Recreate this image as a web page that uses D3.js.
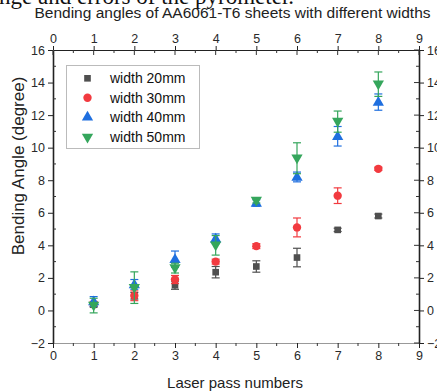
<!DOCTYPE html>
<html><head><meta charset="utf-8">
<script src="https://cdn.jsdelivr.net/npm/d3@7"></script>
<style>
html,body{margin:0;padding:0;background:#fff;overflow:hidden}
svg{display:block}
text{font-family:"Liberation Sans",Arial,sans-serif;fill:#222}
</style></head>
<body>
<script>
const title = "Bending angles of AA6061-T6 sheets with different widths";
const headerText = "nge and errors of the pyrometer.";
const xLabel = "Laser pass numbers";
const yLabel = "Bending Angle (degree)";
const passes = [1, 2, 3, 4, 5, 6, 7, 8];
const seriesNames = ["width 20mm", "width 30mm", "width 40mm", "width 50mm"];
const w20 = [0.35, 0.9, 1.55, 2.35, 2.7, 3.25, 4.95, 5.8];
const w20err = [0.15, 0.2, 0.25, 0.35, 0.35, 0.57, 0.1, 0.12];
const w30 = [0.4, 0.9, 1.9, 3.0, 3.95, 5.1, 7.05, 8.7];
const w30err = [0.15, 0.3, 0.25, 0.15, 0.15, 0.58, 0.48, 0.1];
const w40 = [0.55, 1.6, 3.15, 4.4, 6.6, 8.2, 10.7, 12.8];
const w40err = [0.3, 0.3, 0.5, 0.3, 0.2, 0.3, 0.6, 0.5];
const w50 = [0.3, 1.4, 2.6, 4.0, 6.75, 9.35, 11.6, 13.9];
const w50err = [0.45, 0.97, 0.3, 0.6, 0.15, 0.95, 0.65, 0.75];
const xTicks = [0,1,2,3,4,5,6,7,8,9];
const yTicks = [-2,0,2,4,6,8,10,12,14,16];

const colors = ["#4f4f4f", "#f23a3f", "#1f6fdf", "#35a65c"];
const shapes = [d3.symbolSquare, d3.symbolCircle, d3.symbolTriangle, "down"];
const series = [
  {name: seriesNames[0], vals: w20, err: w20err},
  {name: seriesNames[1], vals: w30, err: w30err},
  {name: seriesNames[2], vals: w40, err: w40err},
  {name: seriesNames[3], vals: w50, err: w50err}
];

const W = 437, H = 392;
const L = 53, R = 419, T = 50, B = 343;
const svg = d3.select("body").append("svg").attr("width", W).attr("height", H);

const x = d3.scaleLinear().domain([0, 9]).range([L, R]);
const y = d3.scaleLinear().domain([-2, 16]).range([B, T]);

// header text from document (cropped at top)
svg.append("text").attr("x", -1).attr("y", 4).style("font-family", "'Liberation Serif','Times New Roman',serif")
  .style("font-size", "23px").style("fill", "#111").text(headerText);

svg.append("text").attr("x", 232.5).attr("y", 18).attr("text-anchor", "middle")
  .style("font-size", "15.5px").text(title);

const minorX = d3.range(0.5, 9, 1);
const minorY = d3.range(-1, 16, 2);

const gB = svg.append("g").attr("transform", `translate(0,${B})`)
  .call(d3.axisBottom(x).tickValues(xTicks).tickSizeInner(5).tickSizeOuter(0).tickPadding(3));
const gL = svg.append("g").attr("transform", `translate(${L},0)`)
  .call(d3.axisLeft(y).tickValues(yTicks).tickSizeInner(5).tickSizeOuter(0).tickPadding(3));
const gT = svg.append("g").attr("transform", `translate(0,${T})`)
  .call(d3.axisTop(x).tickValues(xTicks).tickSizeInner(4).tickSizeOuter(0).tickPadding(3));
const gR = svg.append("g").attr("transform", `translate(${R},0)`)
  .call(d3.axisRight(y).tickValues(yTicks).tickSizeInner(5).tickSizeOuter(0).tickPadding(3));

[gB, gL, gT, gR].forEach(g => {
  g.selectAll("text").style("font-size", "12.5px").style("fill", "#2a2a2a");
  g.selectAll(".tick line").attr("stroke", "#222").attr("stroke-width", 1);
  g.select(".domain").attr("stroke", "#222").attr("stroke-width", 1.2);
});
gB.select(".domain").attr("stroke", "#999").attr("stroke-width", 1);
gL.select(".domain").attr("stroke-width", 1.6);
gR.select(".domain").attr("stroke-width", 1.6);

const tk = svg.append("g").attr("stroke", "#333").attr("stroke-width", 1);
minorX.forEach(v => {
  tk.append("line").attr("x1", x(v)).attr("x2", x(v)).attr("y1", B).attr("y2", B + 3);
  tk.append("line").attr("x1", x(v)).attr("x2", x(v)).attr("y1", T).attr("y2", T + 3);
});
xTicks.forEach(v => {
  tk.append("line").attr("x1", x(v)).attr("x2", x(v)).attr("y1", T).attr("y2", T + 5);
});
minorY.forEach(v => {
  tk.append("line").attr("x1", L).attr("x2", L + 3).attr("y1", y(v)).attr("y2", y(v));
  tk.append("line").attr("x1", R).attr("x2", R - 3).attr("y1", y(v)).attr("y2", y(v));
});
yTicks.forEach(v => {
  tk.append("line").attr("x1", R).attr("x2", R - 5).attr("y1", y(v)).attr("y2", y(v));
});

svg.append("text").attr("x", 235).attr("y", 388).attr("text-anchor", "middle")
  .style("font-size", "15px").text(xLabel);
svg.append("text").attr("transform", `translate(24,166) rotate(-90)`).attr("text-anchor", "middle")
  .style("font-size", "17px").text(yLabel);

function symPath(i, size) {
  if (shapes[i] === "down") {
    return d3.symbol().type(d3.symbolTriangle).size(size)();
  }
  return d3.symbol().type(shapes[i]).size(size)();
}
const sizes = [44, 55, 55, 55];

const plot = svg.append("g");
series.forEach((s, i) => {
  const g = plot.append("g");
  passes.forEach((p, j) => {
    const cx = x(p), cy = y(s.vals[j]);
    const y1 = y(s.vals[j] + s.err[j]), y2 = y(s.vals[j] - s.err[j]);
    g.append("line").attr("x1", cx).attr("x2", cx).attr("y1", y1).attr("y2", y2)
      .attr("stroke", colors[i]).attr("stroke-width", 1.2);
    [y1, y2].forEach(yy => g.append("line").attr("x1", cx - 4).attr("x2", cx + 4).attr("y1", yy).attr("y2", yy)
      .attr("stroke", colors[i]).attr("stroke-width", 1.2));
    const rot = shapes[i] === "down" ? " rotate(180)" : "";
    const dy = shapes[i] === "down" ? -0.5 : (shapes[i] === d3.symbolTriangle ? 0.5 : 0);
    g.append("path").attr("d", symPath(i, sizes[i]))
      .attr("transform", `translate(${cx},${cy + dy})${rot}`).attr("fill", colors[i]);
  });
});

const lg = svg.append("g");
lg.append("rect").attr("x", 66.5).attr("y", 65.5).attr("width", 133).attr("height", 83)
  .attr("fill", "#fff").attr("stroke", "#bbb").attr("stroke-width", 1);
const rowsY = [78.3, 97.8, 117.3, 137];
series.forEach((s, i) => {
  const rot = shapes[i] === "down" ? " rotate(180)" : "";
  lg.append("path").attr("d", symPath(i, sizes[i]))
    .attr("transform", `translate(87.5,${rowsY[i]})${rot}`).attr("fill", colors[i]);
  lg.append("text").attr("x", 110).attr("y", rowsY[i] + 5).style("font-size", "14px").style("fill", "#111").text(s.name);
});
</script>
</body></html>
